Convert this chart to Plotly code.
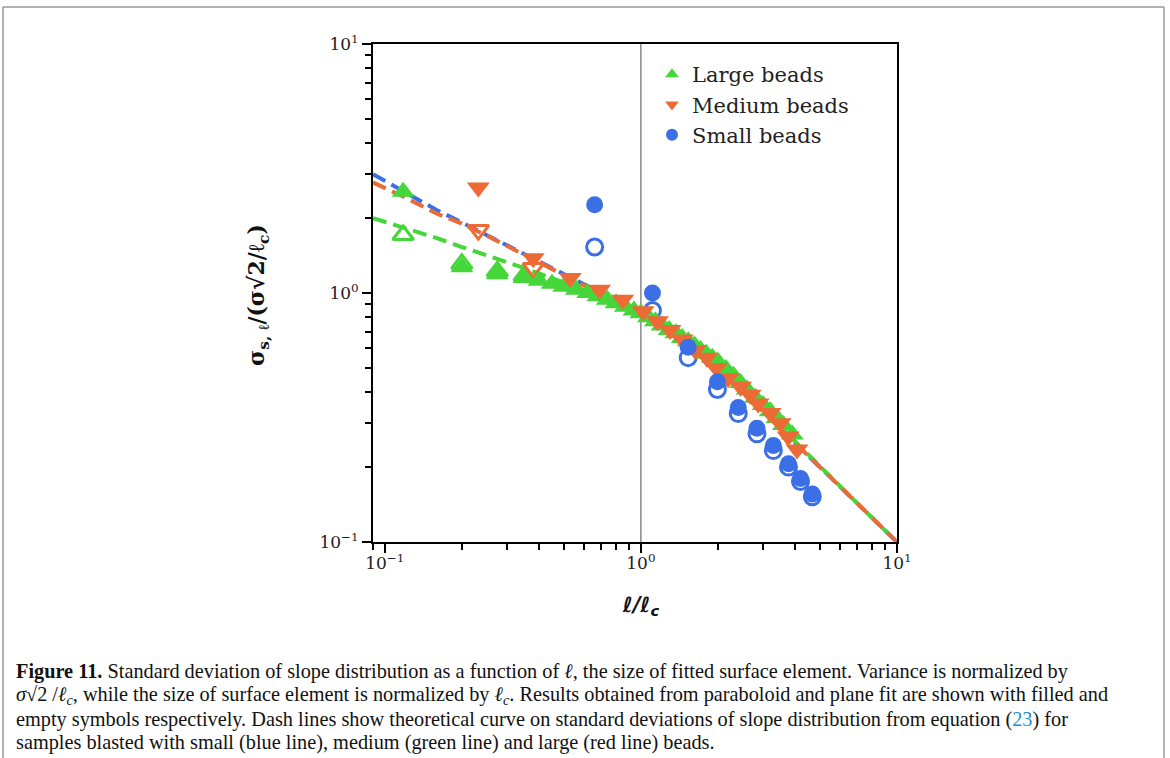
import plotly.graph_objects as go

# ---- theoretical curves ----
theory_x = [0.09, 0.12, 0.16, 0.2, 0.25, 0.3, 0.4, 0.5, 0.6, 0.7, 0.8, 1.0, 1.2, 1.5, 2.0, 2.5, 3.0, 4.0, 5.0, 7.0, 10.0]
theory_small = [3.0, 2.55, 2.15, 1.92, 1.71, 1.56, 1.34, 1.19, 1.08, 1.0, 0.94, 0.85, 0.77, 0.65, 0.50, 0.40, 0.333, 0.25, 0.2, 0.143, 0.1]
theory_medium = [2.78, 2.42, 2.08, 1.9, 1.7, 1.55, 1.33, 1.18, 1.07, 0.99, 0.93, 0.85, 0.77, 0.65, 0.50, 0.40, 0.333, 0.25, 0.2, 0.143, 0.1]
theory_large = [2.0, 1.83, 1.66, 1.53, 1.42, 1.33, 1.2, 1.1, 1.03, 0.97, 0.92, 0.85, 0.78, 0.67, 0.52, 0.41, 0.34, 0.252, 0.2, 0.143, 0.1]

# ---- large beads ----
large_x = [0.118, 0.20, 0.275, 0.35, 0.40, 0.45, 0.50, 0.56, 0.62, 0.68, 0.74, 0.80, 0.87, 0.94, 1.0, 1.07, 1.14,
           1.21, 1.29, 1.37, 1.45, 1.53, 1.62, 1.71, 1.80, 1.90, 2.0, 2.15, 2.3, 2.45, 2.6, 2.8, 3.0, 3.2, 3.4, 3.6, 3.9]
large_y = [2.55, 1.27, 1.19, 1.15, 1.12, 1.09, 1.06, 1.03, 1.0, 0.97, 0.94, 0.91, 0.88, 0.85, 0.83, 0.80, 0.77,
           0.74, 0.71, 0.69, 0.66, 0.64, 0.615, 0.59, 0.57, 0.55, 0.53, 0.495, 0.465, 0.435, 0.41, 0.38, 0.355, 0.335, 0.315, 0.295, 0.27]
large_open_x = [0.118, 0.20, 0.275, 0.35]
large_open_y = [1.71, 1.31, 1.22, 1.17]

# ---- medium beads ----
medium_x = [0.232, 0.38, 0.53, 0.69, 0.85, 1.02, 1.16, 1.30, 1.45, 1.63, 1.81, 1.97, 2.19, 2.45, 2.67, 2.87, 3.2, 3.5, 3.76, 4.07]
medium_y = [2.65, 1.38, 1.15, 1.03, 0.94, 0.845, 0.77, 0.71, 0.65, 0.59, 0.55, 0.50, 0.455, 0.42, 0.39, 0.36, 0.33, 0.30, 0.265, 0.235]
medium_open_x = [0.232, 0.38]
medium_open_y = [1.79, 1.26]

# ---- small beads ----
small_x = [0.66, 1.11, 1.53, 1.99, 2.40, 2.84, 3.29, 3.77, 4.2, 4.67]
small_y = [2.26, 1.0, 0.605, 0.44, 0.347, 0.286, 0.244, 0.206, 0.18, 0.156]
small_open_y = [1.53, 0.85, 0.55, 0.41, 0.328, 0.272, 0.233, 0.20, 0.175, 0.152]

x_ticks = [0.1, 1, 10]
x_tick_text = ["10<sup>−1</sup>", "10<sup>0</sup>", "10<sup>1</sup>"]
y_ticks = [0.1, 1, 10]
y_tick_text = ["10<sup>−1</sup>", "10<sup>0</sup>", "10<sup>1</sup>"]
minor_ticks = [0.09] + [m * 0.1 for m in range(2, 10)] + list(range(2, 10))

caption_lines = [
    "<b>Figure 11.</b> Standard deviation of slope distribution as a function of <i>ℓ</i>, the size of fitted surface element. Variance is normalized by",
    "<i>σ</i>√2 /<i>ℓ<sub>c</sub></i>, while the size of surface element is normalized by <i>ℓ<sub>c</sub></i>. Results obtained from paraboloid and plane fit are shown with filled and",
    "empty symbols respectively. Dash lines show theoretical curve on standard deviations of slope distribution from equation (<span style='color:#2a8fd0'>23</span>) for",
    "samples blasted with small (blue line), medium (green line) and large (red line) beads.",
]

GREEN = "#45d63a"
ORANGE = "#ec6a35"
BLUE = "#3b6fe6"

W, H = 1170, 758
L, R, T, B = 373, 897, 44, 542


def px(xp):
    return (xp - L) / (R - L)


def py(yp):
    return (B - yp) / (B - T)


fig = go.Figure()

dash = "14px,7px"
fig.add_trace(go.Scatter(x=theory_x, y=theory_small, mode="lines", line=dict(color=BLUE, width=4, dash=dash), showlegend=False))
fig.add_trace(go.Scatter(x=theory_x, y=theory_large, mode="lines", line=dict(color=GREEN, width=4, dash=dash), showlegend=False))
fig.add_trace(go.Scatter(x=theory_x, y=theory_medium, mode="lines", line=dict(color=ORANGE, width=4, dash=dash), showlegend=False))

fig.add_trace(go.Scatter(x=large_open_x, y=large_open_y, mode="markers", showlegend=False,
                         marker=dict(symbol="triangle-up-open", size=18, color=GREEN, line=dict(width=3, color=GREEN))))
fig.add_trace(go.Scatter(x=medium_open_x, y=medium_open_y, mode="markers", showlegend=False,
                         marker=dict(symbol="triangle-down-open", size=18, color=ORANGE, line=dict(width=3, color=ORANGE))))
fig.add_trace(go.Scatter(x=small_x, y=small_open_y, mode="markers", showlegend=False,
                         marker=dict(symbol="circle-open", size=16, color=BLUE, line=dict(width=3, color=BLUE))))

fig.add_trace(go.Scatter(x=large_x, y=large_y, mode="markers", name="Large beads",
                         marker=dict(symbol="triangle-up", size=20, color=GREEN, line=dict(width=0))))
fig.add_trace(go.Scatter(x=medium_x, y=medium_y, mode="markers", name="Medium beads",
                         marker=dict(symbol="triangle-down", size=20, color=ORANGE, line=dict(width=0))))
fig.add_trace(go.Scatter(x=small_x, y=small_y, mode="markers", name="Small beads",
                         marker=dict(symbol="circle", size=17, color=BLUE, line=dict(width=0))))

axis_common = dict(
    type="log", showgrid=False, zeroline=False, showline=True, linecolor="black", linewidth=2,
    mirror=True, ticks="outside", ticklen=9, tickwidth=2, tickcolor="black",
    tickfont=dict(family="DejaVu Serif", size=17, color="#222"),
    minor=dict(ticks="outside", ticklen=6, tickwidth=1.5, tickcolor="black", showgrid=False,
               tickmode="array", tickvals=minor_ticks),
)
fig.update_xaxes(range=[-1.0458, 1.0], tickvals=x_ticks, ticktext=x_tick_text, ticklabelstandoff=-4, **axis_common)
fig.update_yaxes(range=[-1.0, 1.0], tickvals=y_ticks, ticktext=y_tick_text, **axis_common)

shapes = [
    dict(type="line", xref="x", yref="paper", x0=1, x1=1, y0=0, y1=1, line=dict(color="#888", width=1.5), layer="below"),
    # outer frame
    dict(type="line", xref="paper", yref="paper", x0=px(3), x1=px(1164), y0=py(7), y1=py(7), line=dict(color="#999", width=1.5)),
    dict(type="line", xref="paper", yref="paper", x0=px(3), x1=px(3), y0=py(7), y1=py(770), line=dict(color="#999", width=1.5)),
    dict(type="line", xref="paper", yref="paper", x0=px(1164), x1=px(1164), y0=py(7), y1=py(770), line=dict(color="#999", width=1.5)),
]

annotations = [
    dict(xref="paper", yref="paper", x=px(258), y=py(295), text="<b>σ<sub>s, ℓ</sub>/(σ√2/ℓ<sub>c</sub>)</b>",
         textangle=-90, showarrow=False, font=dict(family="DejaVu Serif", size=22, color="#111"),
         xanchor="center", yanchor="middle"),
    dict(xref="paper", yref="paper", x=px(640), y=py(606), text="<b><i>ℓ/ℓ<sub>c</sub></i></b>",
         showarrow=False, font=dict(family="DejaVu Sans", size=21, color="#111"),
         xanchor="center", yanchor="middle"),
]
caption_y = [671, 695, 719, 742]
for i, line in enumerate(caption_lines):
    annotations.append(dict(xref="paper", yref="paper", x=px(14), y=py(caption_y[i]), text=line,
                            showarrow=False, xanchor="left", yanchor="middle",
                            font=dict(family="Liberation Serif", size=20.3, color="#111")))

fig.update_layout(
    width=W, height=H,
    margin=dict(l=L, r=W - R, t=T, b=H - B, autoexpand=False),
    paper_bgcolor="white", plot_bgcolor="white",
    shapes=shapes, annotations=annotations,
    legend=dict(x=px(652), y=py(54), xanchor="left", yanchor="top", bgcolor="rgba(255,255,255,0)",
                font=dict(family="DejaVu Serif", size=21, color="#222"), itemsizing="constant", tracegroupgap=2),
)

fig.write_html("out.html", config={"displayModeBar": False},
               post_script="document.body.style.margin='0';document.body.style.padding='0';")
